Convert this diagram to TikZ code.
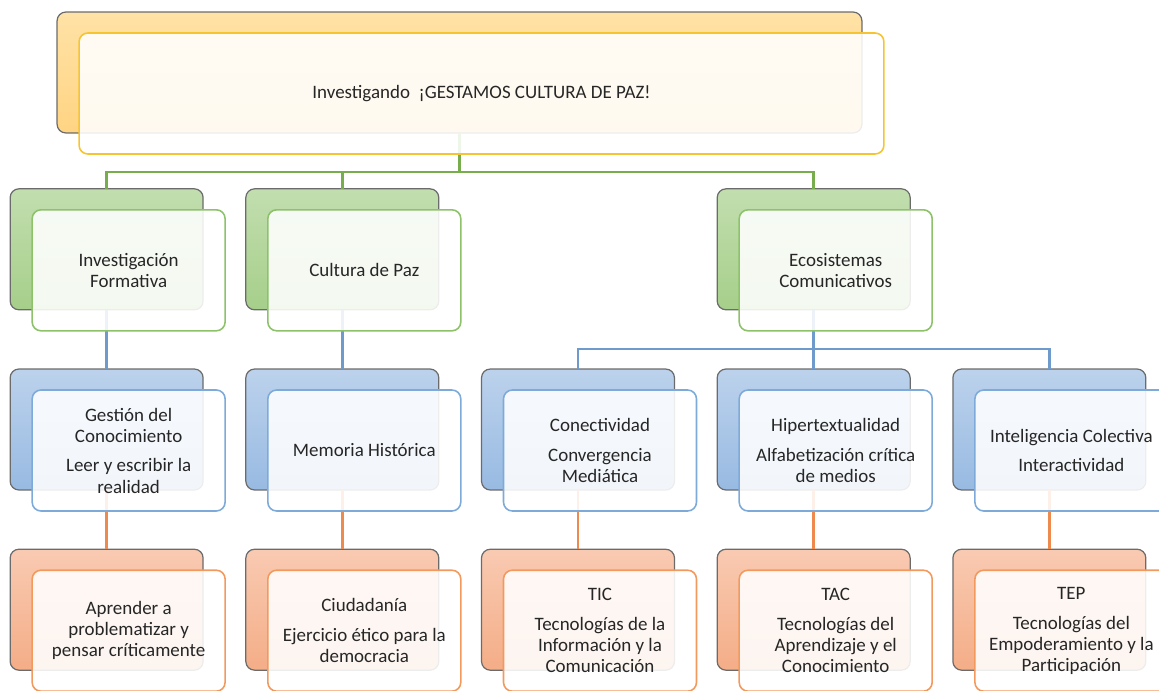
\documentclass[tikz,border=0pt]{standalone}
\usepackage{fontspec}
\setmainfont{Carlito}
\usetikzlibrary{positioning,matrix}

\definecolor{goldtop}{HTML}{FFE2A6}
\definecolor{goldbot}{HTML}{FFD483}
\definecolor{goldline}{HTML}{F6C431}
\definecolor{greentop}{HTML}{C2DEAF}
\definecolor{greenbot}{HTML}{A6CF8A}
\definecolor{greenline}{HTML}{8DC26B}
\definecolor{bluetop}{HTML}{BCD2EC}
\definecolor{bluebot}{HTML}{98BAE2}
\definecolor{blueline}{HTML}{7EAAD9}
\definecolor{orangetop}{HTML}{F9CAB2}
\definecolor{orangebot}{HTML}{F4AD87}
\definecolor{orangeline}{HTML}{F29A5E}
\definecolor{backline}{HTML}{6B6B6B}
\definecolor{gconn}{HTML}{77AD4C}
\definecolor{bconn}{HTML}{6E9BCB}
\definecolor{oconn}{HTML}{EF8A4F}
\definecolor{txt}{HTML}{262626}

\begin{document}
\begin{tikzpicture}
		[
		x = 0.02cm, y = -0.02cm,
		font = \fontsize{10.8}{12}\selectfont,
		card/.style = {rounded corners=5pt, minimum width=3.86cm, minimum height=2.42cm, inner sep=0pt, outer sep=0pt},
		cardback/.style = {card, draw=backline, line width=0.7pt, top color=#1top, bottom color=#1bot},
		cardfront/.style = {card, draw=#1line, line width=0.9pt, fill=white, fill opacity=0.88, text opacity=1, text=txt, align=center},
		frontof/.style = {below right=0.42cm and 0.44cm of #1},
		gline/.style = {draw=gconn, line width=1.4pt},
		bline/.style = {draw=bconn, line width=1.4pt},
		oline/.style = {draw=oconn, line width=1.4pt}
		]
		\useasboundingbox (0,0) rectangle (1159,690);
		\clip (0,0) rectangle (1159,690);
		\node [cardback=gold, minimum width=16.1cm] (top) at (459.5,72.5) {};
		\matrix (m)
		[
		matrix of nodes,
		row sep    = 1.16cm,
		column sep = 0.83cm,
		nodes      = {anchor=center}
		] at (578,429.5)
		{
			|[cardback=green]| {}  & |[cardback=green]| {}  &                        & |[cardback=green]| {}  &                        \\
			|[cardback=blue]| {}   & |[cardback=blue]| {}   & |[cardback=blue]| {}   & |[cardback=blue]| {}   & |[cardback=blue]| {}   \\
			|[cardback=orange]| {} & |[cardback=orange]| {} & |[cardback=orange]| {} & |[cardback=orange]| {} & |[cardback=orange]| {} \\
		};
		\path (top.south) ++(0,39) coordinate (bus1);
		\path (m-1-4.south) ++(0,39) coordinate (bus2);
		\draw [gline] (top.south) -- (bus1) -| (m-1-1.north);
		\draw [gline] (bus1) -| (m-1-2.north);
		\draw [gline] (bus1) -| (m-1-4.north);
		\draw [bline] (m-1-1) -- (m-2-1);
		\draw [bline] (m-1-2) -- (m-2-2);
		\draw [bline] (m-1-4.south) -- (bus2) -| (m-2-3.north);
		\draw [bline] (bus2) -- (m-2-4.north);
		\draw [bline] (bus2) -| (m-2-5.north);
		\foreach \c in {1,...,5}
		\draw [oline] (m-2-\c) -- (m-3-\c);
		\node [cardfront=gold, minimum width=16.1cm, frontof=top.north west] (titulo) {Investigando~ ¡GESTAMOS CULTURA DE PAZ!};
		\node [cardfront=green, frontof=m-1-1.north west] (inv) {Investigación\\Formativa};
		\node [cardfront=green, frontof=m-1-2.north west] (paz) {Cultura de Paz};
		\node [cardfront=green, frontof=m-1-4.north west] (eco) {Ecosistemas\\Comunicativos};
		\node [cardfront=blue, frontof=m-2-1.north west] (gest) {Gestión del\\Conocimiento\\[5pt]Leer y escribir la\\realidad};
		\node [cardfront=blue, frontof=m-2-2.north west] (mem) {Memoria Histórica};
		\node [cardfront=blue, frontof=m-2-3.north west] (con) {Conectividad\\[5pt]Convergencia\\Mediática};
		\node [cardfront=blue, frontof=m-2-4.north west] (hip) {Hipertextualidad\\[5pt]Alfabetización crítica\\de medios};
		\node [cardfront=blue, frontof=m-2-5.north west] (intel) {Inteligencia Colectiva\\[5pt]Interactividad};
		\node [cardfront=orange, frontof=m-3-1.north west] (apr) {Aprender a\\problematizar y\\pensar críticamente};
		\node [cardfront=orange, frontof=m-3-2.north west] (ciud) {Ciudadanía\\[5pt]Ejercicio ético para la\\democracia};
		\node [cardfront=orange, frontof=m-3-3.north west] (tic) {TIC\\[5pt]Tecnologías de la\\Información y la\\Comunicación};
		\node [cardfront=orange, frontof=m-3-4.north west] (tac) {TAC\\[5pt]Tecnologías del\\Aprendizaje y el\\Conocimiento};
		\node [cardfront=orange, frontof=m-3-5.north west] (tep) {TEP\\[5pt]Tecnologías del\\Empoderamiento y la\\Participación};
\end{tikzpicture}
\end{document}
